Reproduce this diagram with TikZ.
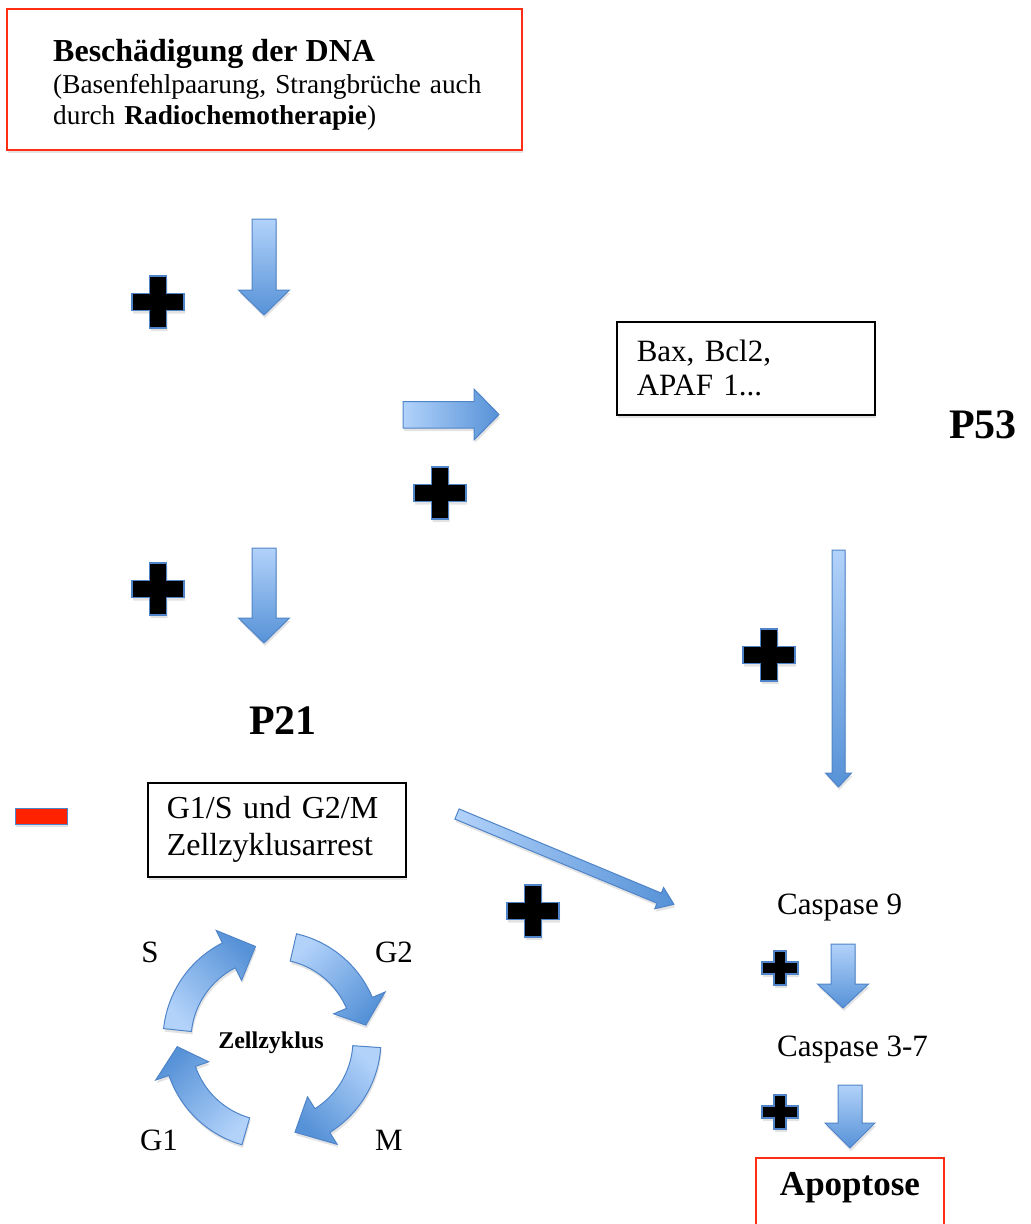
\documentclass[tikz,border=0pt]{standalone}
\usepackage{fontspec}
\setmainfont{Liberation Serif}
\usetikzlibrary{shadows}

\definecolor{arrowlight}{RGB}{178,210,250}
\definecolor{arrowdark}{RGB}{86,146,215}
\definecolor{arrowline}{RGB}{79,132,200}
\definecolor{boxred}{RGB}{255,45,20}
\definecolor{minusred}{RGB}{255,34,0}

% straight block arrow pointing down: x, top, tip, shaft half, head half, head length
\newcommand{\blockdown}[6]{%
  \path[blockarrow] ({#1-#4},#2) -- ({#1+#4},#2) -- ({#1+#4},{#3-#6}) -- ({#1+#5},{#3-#6})
    -- (#1,#3) -- ({#1-#5},{#3-#6}) -- ({#1-#4},{#3-#6}) -- cycle;}

% curved block arrow of the cycle: tail angle, head angle, tip angle, shading angle
\newcommand{\cyclearrow}[4]{%
  \path[blockarrow, shading angle=#4] (#1:109) arc[start angle=#1, end angle=#2, radius=109]
    -- (#2:123) -- (#3:95) -- (#2:67) -- (#2:81) arc[start angle=#2, end angle=#1, radius=81] -- cycle;}

\begin{document}
\begin{tikzpicture}[x=1pt, y=-1pt,
	soft/.style={drop shadow={opacity=0.22, shadow xshift=1pt, shadow yshift=-3pt}},
	blockarrow/.style={draw=arrowline, line width=1pt, top color=arrowlight, bottom color=arrowdark, soft},
	plussign/.style={fill=black, draw=arrowline, line width=1.5pt, soft},
	redbox/.style={draw=boxred, line width=1.5pt, fill=white, soft},
	blackbox/.style={draw=black, line width=1.5pt, fill=white, align=left, soft},
	txt/.style={inner sep=0pt, font=\fontsize{31}{34}\selectfont},
	bold/.style={inner sep=0pt, font=\bfseries\fontsize{42}{46}\selectfont},
	bigplus/.pic={\path[plussign] (-26,-8.5) -- (-8.5,-8.5) -- (-8.5,-26) -- (8.5,-26) -- (8.5,-8.5) -- (26,-8.5)
		-- (26,8.5) -- (8.5,8.5) -- (8.5,26) -- (-8.5,26) -- (-8.5,8.5) -- (-26,8.5) -- cycle;},
	smallplus/.pic={\path[plussign] (-18,-6) -- (-6,-6) -- (-6,-17) -- (6,-17) -- (6,-6) -- (18,-6)
		-- (18,6) -- (6,6) -- (6,17) -- (-6,17) -- (-6,6) -- (-18,6) -- cycle;}]

	\useasboundingbox (0,0) rectangle (1031,1224);

	% DNA damage
	\node[redbox, minimum width=515pt, minimum height=141pt] (dnabox) at (264.5,79.5) {};
	\node[inner sep=0pt, anchor=base west, font=\bfseries\fontsize{32}{36}\selectfont] (dnatitle) at (53,61) {Beschädigung der DNA};
	\node[inner sep=0pt, anchor=base west, text width=450pt, align=left, font=\fontsize{27.3}{31.5}\selectfont] (dnatext) at (53,93)
		{(Basenfehlpaarung, Strangbrüche auch\\durch \textbf{Radiochemotherapie})};

	% P53 and its targets
	\blockdown{264}{219}{315}{12}{25.5}{25}
	\pic at (158,302) {bigplus};
	\node[bold, anchor=base] (p53) at (983,438) {P53};
	\path[blockarrow, shading angle=90] (403,401.5) -- (474,401.5) -- (474,389) -- (499,414.5)
		-- (474,440) -- (474,428) -- (403,428) -- cycle;
	\pic at (440,493) {bigplus};
	\node[blackbox, txt, anchor=north west, text width=218pt, minimum height=93pt, inner xsep=20pt] (targets) at (616,321)
		{Bax, Bcl2,\\APAF 1...};

	% P21 and arrest
	\blockdown{264}{548}{643}{12}{25.5}{25}
	\pic at (158,589) {bigplus};
	\node[bold, anchor=base] (p21) at (283,734) {P21};
	\path[fill=minusred, draw=arrowline, line width=1pt, soft] (15,808) rectangle (67,824);
	\node[blackbox, txt, font=\fontsize{32}{37}\selectfont, anchor=north west, text width=220pt, minimum height=94pt, inner xsep=19pt] (arrest) at (147,782)
		{G1/S und G2/M\\Zellzyklusarrest};

	% way to apoptosis
	\blockdown{838.5}{550}{787}{6.5}{13}{14}
	\pic at (769,655) {bigplus};
	\begin{scope}[shift={(457,814)}, rotate=-22.6]
		\path[blockarrow, shading angle=90] (0,-5.5) -- (219,-5.5) -- (219,-11.5) -- (235,0)
			-- (219,11.5) -- (219,5.5) -- (0,5.5) -- cycle;
	\end{scope}
	\pic at (533,911) {bigplus};

	% caspases
	\node[txt, anchor=base west] (casp9) at (777,914) {Caspase 9};
	\blockdown{843}{944}{1008}{12}{25.5}{24}
	\pic at (780,968) {smallplus};
	\node[txt, anchor=base west] (casp37) at (777,1056) {Caspase 3-7};
	\blockdown{850}{1085}{1148}{12}{25}{25}
	\pic at (780,1112) {smallplus};
	\node[redbox, anchor=north, minimum width=188pt, text height=26pt, text depth=50pt, inner ysep=12pt, inner xsep=0pt,
		font=\bfseries\fontsize{35}{40}\selectfont] (apoptose) at (850,1157) {Apoptose};

	% cell cycle
	\begin{scope}[shift={(272,1040)}, y=1pt]
		\cyclearrow{174}{117}{100}{135}
		\cyclearrow{77}{23}{9}{45}
		\cyclearrow{-4}{-58}{-76}{-45}
		\cyclearrow{-106}{-161}{-176}{225}
	\end{scope}
	\node[txt, anchor=base] (phaseS) at (150,962) {S};
	\node[txt, anchor=base] (phaseG2) at (394,962) {G2};
	\node[txt, anchor=base] (phaseG1) at (159,1150) {G1};
	\node[txt, anchor=base] (phaseM) at (389,1150) {M};
	\node[inner sep=0pt, anchor=base, font=\bfseries\fontsize{24}{28}\selectfont] (cycle) at (271,1048) {Zellzyklus};

\end{tikzpicture}
\end{document}
